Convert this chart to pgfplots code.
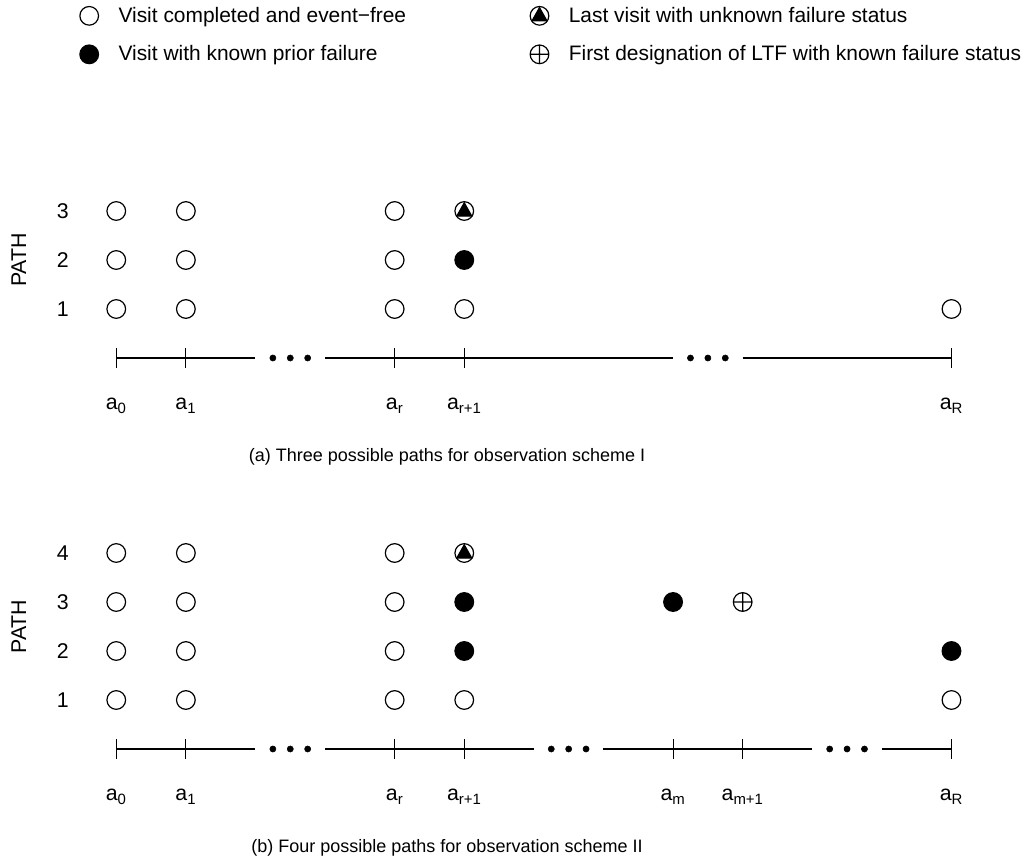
\documentclass[border=0pt]{standalone}
\usepackage{fontspec}
\setmainfont{Liberation Sans}
\usepackage{pgfplots}
\pgfplotsset{compat=1.18}
\usetikzlibrary{plotmarks}

\pgfdeclareplotmark{tricirc}{%
  \pgfpathcircle{\pgfpointorigin}{\pgfplotmarksize}\pgfusepathqstroke
  \pgfpathmoveto{\pgfpoint{0pt}{0.88\pgfplotmarksize}}%
  \pgfpathlineto{\pgfpoint{-0.80\pgfplotmarksize}{-0.54\pgfplotmarksize}}%
  \pgfpathlineto{\pgfpoint{0.80\pgfplotmarksize}{-0.54\pgfplotmarksize}}%
  \pgfpathclose\pgfusepathqfillstroke
}

\pgfplotsset{
  panel/.style={
    anchor=origin, x=52.2pt, y=36.75pt, xmin=-0.5, xmax=12.5, clip=false,
    axis line style={draw=none}, major tick length=0pt, tick style={draw=none},
    /pgf/number format/assume math mode=true,
    ticklabel style={font=\fontsize{16}{19}\selectfont},
    yticklabel style={xshift=-6pt},
    xticklabel style={anchor=base},
    label style={font=\fontsize{16}{19}\selectfont},
    xlabel style={font=\fontsize{13.5}{16}\selectfont, anchor=center},
    ylabel style={anchor=center, rotate=0},
    legend image code/.code={\path[draw=none, fill=none] (0pt,-6pt) rectangle (32pt,6pt);
      \draw[#1] plot coordinates {(12pt,0pt)};},
  },
  seg/.style={black, line width=1.4pt, no marks, forget plot},
  tk/.style={black, only marks, mark=|, mark size=7.5pt, line width=0.8pt, forget plot},
  dts/.style={black, only marks, mark=*, mark size=2.3pt, forget plot},
  opn/.style={black, only marks, mark=o, mark size=7pt, line width=0.9pt},
  fld/.style={black, only marks, mark=*, mark size=7pt, line width=0.9pt},
  trc/.style={black, only marks, mark=tricirc, mark size=7pt, line width=0.9pt},
  opl/.style={black, only marks, mark=oplus, mark size=7pt, line width=0.9pt},
}

\begin{document}
\begin{tikzpicture}
\useasboundingbox (-87.2pt,-378.75pt) rectangle (689.8pt,268.5pt);
% ---------------- panel (a)
\begin{axis}[panel, at={(0pt,0pt)}, ymin=-1.06, ymax=3.5,
  ytick={1,2,3}, xtick={0,1,4,5,12},
  xticklabels={a\textsubscript{0},a\textsubscript{1},a\textsubscript{r},a\textsubscript{r+1},a\textsubscript{R}},
  ylabel={PATH}, ylabel style={at={(axis description cs:-0.0692,0.671)}, rotate=0},
  xlabel={(a) Three possible paths for observation scheme I},
  xlabel style={at={(axis description cs:0.404,-0.2105)}},
  legend columns=2, legend cell align=left,
  legend style={draw=none, fill=none, at={(axis cs:-0.68,6.59)}, anchor=west,
    font=\fontsize{15.7}{18}\selectfont, row sep=12pt,
    /tikz/every even column/.append style={column sep=86pt}},
]
\addplot[seg] coordinates {(0,0) (2,0)};
\addplot[seg] coordinates {(3,0) (8,0)};
\addplot[seg] coordinates {(9,0) (12,0)};
\addplot[tk] coordinates {(0,0) (1,0) (4,0) (5,0) (12,0)};
\addplot[dts] coordinates {(2.25,0) (2.5,0) (2.75,0) (8.25,0) (8.5,0) (8.75,0)};
\addplot[opn] coordinates {(0,1) (0,2) (0,3) (1,1) (1,2) (1,3) (4,1) (4,2) (4,3) (5,1) (12,1)};
\addlegendentry{Visit completed and event−free}
\addplot[trc] coordinates {(5,3)};
\addlegendentry{Last visit with unknown failure status}
\addplot[fld] coordinates {(5,2)};
\addlegendentry{Visit with known prior failure}
\addlegendimage{opl}
\addlegendentry{First designation of LTF with known failure status}
\end{axis}
% ---------------- panel (b)
\begin{axis}[panel, at={(0pt,-293.25pt)}, ymin=-1.06, ymax=4.5,
  ytick={1,2,3,4}, xtick={0,1,4,5,8,9,12},
  xticklabels={a\textsubscript{0},a\textsubscript{1},a\textsubscript{r},a\textsubscript{r+1},a\textsubscript{m},a\textsubscript{m+1},a\textsubscript{R}},
  ylabel={PATH}, ylabel style={at={(axis description cs:-0.0692,0.640)}, rotate=0},
  xlabel={(b) Four possible paths for observation scheme II},
  xlabel style={at={(axis description cs:0.404,-0.1727)}},
]
\addplot[seg] coordinates {(0,0) (2,0)};
\addplot[seg] coordinates {(3,0) (6,0)};
\addplot[seg] coordinates {(7,0) (10,0)};
\addplot[seg] coordinates {(11,0) (12,0)};
\addplot[tk] coordinates {(0,0) (1,0) (4,0) (5,0) (8,0) (9,0) (12,0)};
\addplot[dts] coordinates {(2.25,0) (2.5,0) (2.75,0) (6.25,0) (6.5,0) (6.75,0) (10.25,0) (10.5,0) (10.75,0)};
\addplot[opn] coordinates {(0,1) (0,2) (0,3) (0,4) (1,1) (1,2) (1,3) (1,4) (4,1) (4,2) (4,3) (4,4) (5,1) (12,1)};
\addplot[trc] coordinates {(5,4)};
\addplot[fld] coordinates {(5,2) (5,3) (8,3) (12,2)};
\addplot[opl] coordinates {(9,3)};
\end{axis}
\end{tikzpicture}
\end{document}
